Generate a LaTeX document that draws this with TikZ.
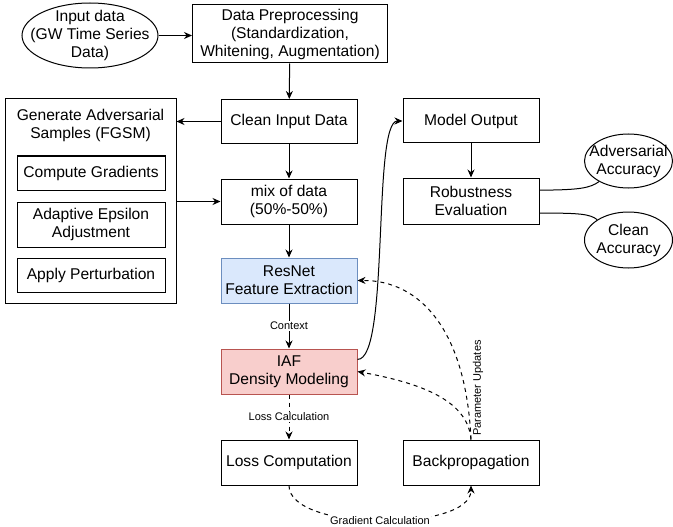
\documentclass[tikz,border=0pt]{standalone}
\usepackage{fontspec}
\setmainfont{Liberation Sans}
\usetikzlibrary{shapes.geometric,arrows.meta}
\definecolor{resFill}{HTML}{DAE8FC}
\definecolor{resLine}{HTML}{6C8EBF}
\definecolor{iafFill}{HTML}{F8CECC}
\definecolor{iafLine}{HTML}{B85450}
\tikzset{
  box/.style={draw, minimum width=136pt, minimum height=45pt, align=center, inner sep=2pt,
    font=\fontsize{15.6}{18}\selectfont},
  oval/.style={draw, ellipse, inner sep=0pt},
  txt/.style={align=center, font=\fontsize{15.6}{18}\selectfont},
  lbl/.style={fill=white, inner sep=1pt, font=\fontsize{11}{13}\selectfont},
  dsh/.style={dash pattern=on 4pt off 4pt},
}
\begin{document}
\begin{tikzpicture}[x=1pt, y=-1pt, >={Stealth[length=8pt,width=7pt]}, line width=1pt]
\useasboundingbox (0,0) rectangle (673,527);

\node[oval, minimum width=136pt, minimum height=65pt] (input) at (90,35.5) {};
\node[txt] at (input) {Input data\\(GW Time Series\\Data)};
\node[box, minimum width=195pt, minimum height=58pt] (prep) at (290,34) {Data Preprocessing\\(Standardization,\\Whitening, Augmentation)};
\node[box, minimum height=44pt] (clean) at (289,121.5) {Clean Input Data};
\node[box] (mix) at (289,201.5) {mix of data\\(50\%-50\%)};
\node[box, fill=resFill, draw=resLine] (resnet) at (289,280.5) {ResNet\\Feature Extraction};
\node[box, fill=iafFill, draw=iafLine] (iaf) at (289,371.5) {IAF\\Density Modeling};
\node[box] (loss) at (289,462.5) {Loss Computation};
\node[box] (bp) at (471,462.5) {Backpropagation};

\node[box, minimum width=171pt, minimum height=204pt] (adv) at (90.5,201) {};
\node[txt] (advtitle) at (90.5,125.5) {Generate Adversarial\\Samples (FGSM)};
\node[box, minimum width=148pt, minimum height=34pt] (grad) at (91,173) {Compute Gradients};
\node[box, minimum width=148pt, minimum height=45pt] (eps) at (91,224.5) {Adaptive Epsilon\\Adjustment};
\node[box, minimum width=148pt, minimum height=34pt] (pert) at (91,275) {Apply Perturbation};

\node[box, minimum height=44pt] (model) at (471,121) {Model Output};
\node[box, minimum height=46pt] (rob) at (471,201) {Robustness\\Evaluation};
\node[oval, minimum width=88pt, minimum height=54pt] (advacc) at (628.5,161) {};
\node[txt] at (advacc) {Adversarial\\Accuracy};
\node[oval, minimum width=88pt, minimum height=56pt] (cleanacc) at (628.5,240) {};
\node[txt] at (cleanacc) {Clean\\Accuracy};

\draw[->] (input.east) -- (input.east -| prep.west);
\draw[->] (prep) -- (clean);
\draw[->] (clean.west) -- (clean.west -| adv.east);
\draw[->] (clean) -- (mix);
\draw[->] (mix.west -| adv.east) -- (mix.west);
\draw[->] (mix) -- (resnet);
\draw[->] (resnet) -- node[lbl]{Context} (iaf);
\draw[->, dsh] (iaf) -- node[lbl]{Loss Calculation} (loss);
\draw[->, dsh] (loss.south) .. controls (289,532) and (471,532) .. node[lbl]{Gradient Calculation} (bp.south);
\draw[->, dsh] (bp.north) .. controls (466,330) and (420,280) .. (resnet.east);
\draw[->, dsh] (bp.north) .. controls (468,400) and (420,383) .. (iaf.east);
\node[rotate=90, font=\fontsize{11}{13}\selectfont] (upd) at (478,388) {Parameter Updates};
\draw[->] (iaf.10) .. controls (390,360) and (372,121) .. (model.west);
\draw[->] (model) -- (rob);
\draw (rob.9) .. controls (580,190) and (590,188) .. (advacc.215);
\draw (rob.-10) .. controls (580,213) and (590,214) .. (cleanacc.147);
\end{tikzpicture}
\end{document}
